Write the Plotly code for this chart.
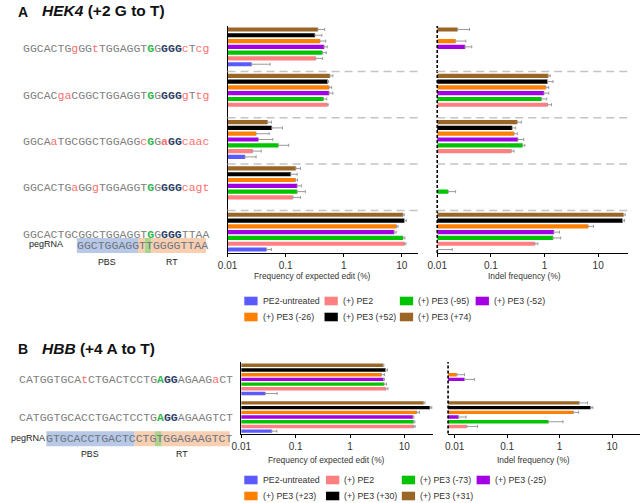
import plotly.graph_objects as go

W, H = 642, 503

# series in legend order; bars are stacked top-to-bottom in reverse order
COLORS = ["#5a5aff", "#ff8080", "#00c400", "#a400e4", "#ff8000", "#000000", "#9b6526"]
HEK4_LABELS = ["PE2-untreated", "(+) PE2", "(+) PE3 (-95)", "(+) PE3 (-52)",
               "(+) PE3 (-26)", "(+) PE3 (+52)", "(+) PE3 (+74)"]
HBB_LABELS = ["PE2-untreated", "(+) PE2", "(+) PE3 (-73)", "(+) PE3 (-25)",
              "(+) PE3 (+23)", "(+) PE3 (+30)", "(+) PE3 (+31)"]

# target sequences (lowercase = mismatch), marks: . plain, r red, R red bold, g green bold, n navy bold
HEK4_SEQS = ["GGCACTGgGGtTGGAGGTGGGGGcTcg", "GGCACgaCGGCTGGAGGTGGGGGgTtg",
             "GGCAaTGCGGCTGGAGGcGGaGGcaac", "GGCACTGaGGgTGGAGGTGGGGGcagt",
             "GGCACTGCGGCTGGAGGTGGGGGTTAA"]
HEK4_MARKS = [".......r..r.......g.nnnr.rr", ".....rr...........g.nnnr.rr",
              "....r............rg.Rnnrrrr", ".......r..r.......g.nnnrrrr",
              "..................g.nnn...."]
HEK4_PEG = [("GGCTGGAGG", "pbs"), ("T", "rt"), ("T", "edit"), ("GGGGTTAA", "rt")]
HEK4_PEG_OFFSET = 8

HBB_SEQS = ["CATGGTGCAtCTGACTCCTGAGGAGAAGaCT", "CATGGTGCACCTGACTCCTGAGGAGAAGTCT"]
HBB_MARKS = [".........r..........gnn.....r..", "....................gnn........"]
HBB_PEG = [("GTGCACCTGACTC", "pbs"), ("CTG", "rt"), ("T", "edit"), ("GGAGAAGTCT", "rt")]
HBB_PEG_OFFSET = 4

# rows = series (legend order), columns = target sites from top to bottom, values in %
HEK4_EDIT = [
    [0.026, 0, 0.020, 0, 0.047],
    [0.33, 0.52, 0.027, 0.133, 11.1],
    [0.43, 0.45, 0.075, 0.158, 10.5],
    [0.46, 0.56, 0.034, 0.158, 7.4],
    [0.39, 0.56, 0.031, 0.148, 8.1],
    [0.32, 0.53, 0.058, 0.123, 11.1],
    [0.36, 0.58, 0.049, 0.150, 10.5],
]
HEK4_EDIT_SD = [
    [0.028, 0, 0.011, 0, 0.010],
    [0.10, 0.02, 0.011, 0.047, 0.7],
    [0.07, 0.06, 0.038, 0.060, 0.8],
    [0.06, 0.09, 0.026, 0.028, 0.6],
    [0.10, 0.06, 0.021, 0.012, 0.5],
    [0.10, 0.02, 0.030, 0.035, 0.9],
    [0.11, 0.07, 0.008, 0.030, 0.5],
]
HEK4_INDEL = [
    [0, 0, 0, 0, 0.005],
    [0, 1.14, 0.24, 0, 0.66],
    [0, 0.88, 0.39, 0.016, 1.44],
    [0.033, 0.98, 0.32, 0, 1.5],
    [0.022, 1.06, 0.27, 0, 6.5],
    [0, 1.14, 0.25, 0, 28.6],
    [0.024, 1.17, 0.31, 0, 29.7],
]
HEK4_INDEL_SD = [
    [0, 0, 0, 0, 0.014],
    [0, 0.21, 0.03, 0, 0.09],
    [0, 0.22, 0.04, 0.006, 0.56],
    [0.011, 0.22, 0.09, 0, 0.4],
    [0.012, 0.14, 0.04, 0, 1.7],
    [0, 0.30, 0.04, 0, 2.4],
    [0.016, 0.11, 0.06, 0, 2.3],
]

HBB_EDIT = [
    [0.0276, 0.0365],
    [4.54, 14.8],
    [4.24, 14.8],
    [4.13, 14.4],
    [3.78, 17.0],
    [4.54, 29.7],
    [4.06, 22.5],
]
HBB_EDIT_SD = [
    [0.018, 0.0085],
    [0.46, 1.0],
    [0.46, 0.8],
    [0.17, 0.6],
    [0.52, 2.0],
    [0.36, 2.3],
    [0.14, 1.5],
]
HBB_INDEL = [
    [0, 0],
    [0, 0.017],
    [0, 0.61],
    [0.0154, 0.0119],
    [0.011, 1.83],
    [0, 3.93],
    [0, 2.37],
]
HBB_INDEL_SD = [
    [0, 0],
    [0, 0.0103],
    [0, 0.55],
    [0.0083, 0.0046],
    [0.0044, 0.47],
    [0, 0.37],
    [0, 1.03],
]

SANS = "Liberation Sans, Arial, sans-serif"
MONO = "Liberation Mono, Courier New, monospace"
SEQ_SIZE = 11.5
CW = 0.6 * SEQ_SIZE
GRAY = "#808080"
RED = "#ff6f6f"
GREEN = "#2db84a"
NAVY = "#2c3e66"
PEG_BG = {"pbs": "#b7c9e6", "rt": "#f8cfb0", "edit": "#add38e"}
STEP = 8  # slots per target site (7 bars + gap)


def fx(px):
    return px / W


def fy(py):
    return 1 - py / H


def seq_html(seq, marks):
    out = []
    for ch, m in zip(seq, marks):
        if m == "r":
            out.append(f"<span style='color:{RED}'>{ch}</span>")
        elif m == "R":
            out.append(f"<b><span style='color:{RED}'>{ch}</span></b>")
        elif m == "g":
            out.append(f"<b><span style='color:{GREEN}'>{ch}</span></b>")
        elif m == "n":
            out.append(f"<b><span style='color:{NAVY}'>{ch}</span></b>")
        else:
            out.append(ch)
    return "".join(out)


PANELS = [
    dict(letter="A", title="<b><i>HEK4</i> (+2 G to T)</b>", head_y=12,
         top=26, bottom=253, yrange=[38.6, -0.6],
         edit_px=(221, 414), edit_range=[-2, 1.271],
         indel_px=(434, 628), indel_range=[-2, 1.56],
         edit=HEK4_EDIT, edit_sd=HEK4_EDIT_SD, indel=HEK4_INDEL, indel_sd=HEK4_INDEL_SD,
         seqs=HEK4_SEQS, marks=HEK4_MARKS, seq_x=12.7, seq_shift=-2,
         peg=HEK4_PEG, peg_off=HEK4_PEG_OFFSET, peg_y=245.5, peg_lab_x=37, lab_y=262,
         edit_title=(307, 276), indel_title=(523, 276),
         labels=HEK4_LABELS, leg_rows=(301, 317), leg_cols=[238, 319.5, 396, 473],
         separators=True),
    dict(letter="B", title="<b><i>HBB</i> (+4 A to T)</b>", head_y=349,
         top=362, bottom=433.5, yrange=[14.5, -0.7],
         edit_px=(235, 430), edit_range=[-2, 1.533],
         indel_px=(445, 640), indel_range=[-2.126, 1.533],
         edit=HBB_EDIT, edit_sd=HBB_EDIT_SD, indel=HBB_INDEL, indel_sd=HBB_INDEL_SD,
         seqs=HBB_SEQS, marks=HBB_MARKS, seq_x=9.3, seq_shift=0,
         peg=HBB_PEG, peg_off=HBB_PEG_OFFSET, peg_y=438.7, peg_lab_x=18.5, lab_y=454,
         edit_title=(321.7, 460), indel_title=(532, 460),
         labels=HBB_LABELS, leg_rows=(480, 496), leg_cols=[238, 321, 398, 474],
         separators=False),
]

fig = go.Figure()
shapes = []
annotations = []
layout_axes = {}

axis_n = 0
for p in PANELS:
    n_groups = len(p["seqs"])
    ydom = [fy(p["bottom"]), fy(p["top"])]
    plots = [("edit", p["edit_px"], p["edit_range"], p["edit"], p["edit_sd"]),
             ("indel", p["indel_px"], p["indel_range"], p["indel"], p["indel_sd"])]
    for kind, xpx, xrange_, vals, sds in plots:
        axis_n += 1
        sfx = "" if axis_n == 1 else str(axis_n)
        xa, ya = "x" + sfx, "y" + sfx
        for s, color in enumerate(COLORS):
            fig.add_trace(go.Bar(
                x=vals[s],
                y=[g * STEP + (len(COLORS) - 1 - s) for g in range(n_groups)],
                orientation="h",
                marker=dict(color=color, line=dict(width=0)),
                width=0.72,
                error_x=dict(type="data", symmetric=False, array=sds[s],
                             arrayminus=[0] * n_groups, color="#9a9a9a",
                             thickness=1, width=1.5),
                xaxis=xa, yaxis=ya, showlegend=False,
            ))
        layout_axes["xaxis" + sfx] = dict(
            domain=[fx(xpx[0]), fx(xpx[1])], anchor=ya, type="log", range=xrange_,
            tickvals=[0.01, 0.1, 1, 10], ticktext=["0.01", "0.1", "1", "10"],
            showline=True, linecolor="#000", linewidth=1, ticks="outside",
            ticklen=3, tickcolor="#000", showgrid=False, zeroline=False,
            tickfont=dict(family=SANS, size=10, color="#333"),
        )
        layout_axes["yaxis" + sfx] = dict(
            domain=ydom, anchor=xa, range=p["yrange"], showticklabels=False,
            showgrid=False, zeroline=False, ticks="",
            showline=(kind == "edit"), linecolor="#000", linewidth=1,
        )
        if kind == "indel":
            shapes.append(dict(type="line", xref=xa + " domain", yref=ya + " domain",
                               x0=0, x1=0, y0=0, y1=1,
                               line=dict(color="#000", width=1.6, dash="3px,2px")))
        if p["separators"]:
            for g in range(1, n_groups):
                shapes.append(dict(type="line", xref=xa + " domain", yref=ya,
                                   x0=0, x1=1, y0=g * STEP - 0.75, y1=g * STEP - 0.75,
                                   line=dict(color="#c4c4c4", width=1.5, dash="8px,5px")))
        if kind == "edit":
            seq_ya = ya

    # panel heading
    annotations.append(dict(text=f"<b>{p['letter']}</b>", x=fx(6), y=fy(p["head_y"]),
                            xref="paper", yref="paper", xanchor="left", yanchor="middle",
                            showarrow=False, font=dict(family=SANS, size=14, color="#111")))
    annotations.append(dict(text=p["title"], x=fx(30), y=fy(p["head_y"] - 1),
                            xref="paper", yref="paper", xanchor="left", yanchor="middle",
                            showarrow=False, font=dict(family=SANS, size=15.5, color="#111")))

    # target sequences next to each group of bars
    for g, (seq, marks) in enumerate(zip(p["seqs"], p["marks"])):
        annotations.append(dict(text=seq_html(seq, marks), x=fx(p["seq_x"]), y=g * STEP + 3,
                                xref="paper", yref=seq_ya, xanchor="left", yanchor="middle",
                                yshift=p["seq_shift"], showarrow=False, borderpad=0, borderwidth=0,
                                font=dict(family=MONO, size=SEQ_SIZE, color=GRAY)))

    # pegRNA with PBS / RT shading
    start = p["seq_x"] + p["peg_off"] * CW
    pos = start
    spans = {}
    for chunk, part in p["peg"]:
        x0, x1 = pos, pos + len(chunk) * CW
        shapes.append(dict(type="rect", xref="paper", yref="paper", layer="below",
                           x0=fx(x0), x1=fx(x1), y0=fy(p["peg_y"] + 7.5), y1=fy(p["peg_y"] - 7.5),
                           fillcolor=PEG_BG[part], line=dict(width=0)))
        key = "pbs" if part == "pbs" else "rt"
        lo, hi = spans.get(key, (x0, x1))
        spans[key] = (min(lo, x0), max(hi, x1))
        pos = x1
    annotations.append(dict(text="".join(c for c, _ in p["peg"]), x=fx(start), y=fy(p["peg_y"]),
                            xref="paper", yref="paper", xanchor="left", yanchor="middle",
                            showarrow=False, borderpad=0, borderwidth=0,
                            font=dict(family=MONO, size=SEQ_SIZE, color="#6e7480")))
    annotations.append(dict(text="pegRNA", x=fx(p["peg_lab_x"]), y=fy(p["peg_y"] - 1),
                            xref="paper", yref="paper", xanchor="center", yanchor="middle",
                            showarrow=False, font=dict(family=SANS, size=9, color="#222")))
    for key, name in (("pbs", "PBS"), ("rt", "RT")):
        lo, hi = spans[key]
        annotations.append(dict(text=name, x=fx((lo + hi) / 2), y=fy(p["lab_y"]),
                                xref="paper", yref="paper", xanchor="center", yanchor="middle",
                                showarrow=False, font=dict(family=SANS, size=8.8, color="#222")))

    # axis titles
    for (tx, ty), text, size in ((p["edit_title"], "Frequency of expected edit (%)", 8.4),
                                 (p["indel_title"], "Indel frequency (%)", 8.4)):
        annotations.append(dict(text=text, x=fx(tx), y=fy(ty), xref="paper", yref="paper",
                                xanchor="center", yanchor="middle", showarrow=False,
                                font=dict(family=SANS, size=size, color="#333")))

    # legend, 4 columns x 2 rows
    for s, (label, color) in enumerate(zip(p["labels"], COLORS)):
        cx = p["leg_cols"][s % 4]
        ry = p["leg_rows"][s // 4]
        shapes.append(dict(type="rect", xref="paper", yref="paper",
                           x0=fx(cx), x1=fx(cx + 13.5), y0=fy(ry + 4.3), y1=fy(ry - 4.3),
                           fillcolor=color, line=dict(width=0)))
        annotations.append(dict(text=label, x=fx(cx + 16.5), y=fy(ry), xref="paper", yref="paper",
                                xanchor="left", yanchor="middle", showarrow=False,
                                font=dict(family=SANS, size=8.8, color="#333")))

fig.update_layout(
    width=W, height=H, autosize=False,
    margin=dict(l=0, r=0, t=0, b=0),
    paper_bgcolor="white", plot_bgcolor="white",
    barmode="overlay", showlegend=False,
    shapes=shapes, annotations=annotations,
    **layout_axes,
)
# drop the default page margin so the 642x503 figure fills the window exactly
fig.write_html("out.html", config={"displayModeBar": False},
               post_script="document.body.style.margin='0';document.body.style.overflow='hidden';")
